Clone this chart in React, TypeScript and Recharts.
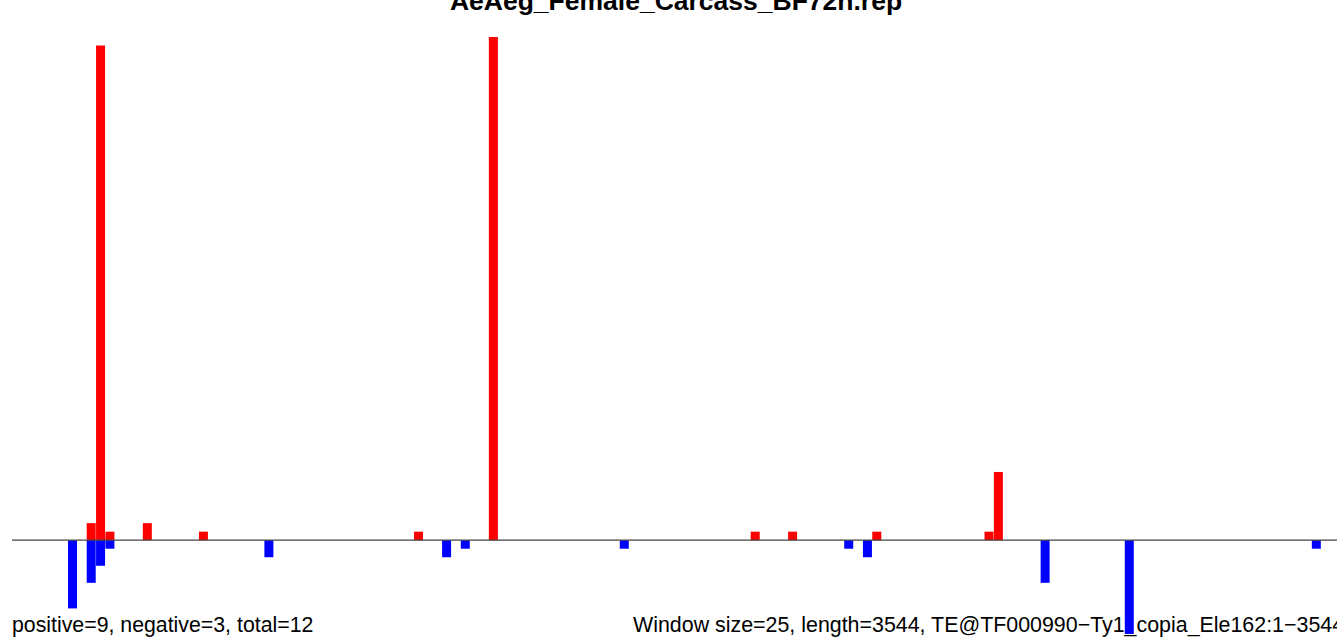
import { BarChart, Bar, XAxis, YAxis, ReferenceLine } from "recharts";

// window size 25 over a 3544 bp element -> 142 windows
const WINDOW_COUNT = 142;

const TITLE = "AeAeg_Female_Carcass_BF72h.rep";
const LEFT_NOTE = "positive=9, negative=3, total=12";
const RIGHT_NOTE = "Window size=25, length=3544, TE@TF000990\u2212Ty1_copia_Ele162:1\u22123544";

const posWindows = [2, 3, 4, 8, 14, 37, 45, 73, 77, 86, 98, 99];
const posCounts = [2, 58, 1, 2, 1, 1, 59, 1, 1, 1, 1, 8];

const negWindows = [0, 2, 3, 4, 21, 40, 42, 59, 83, 85, 104, 113, 133];
const negCounts = [-8, -5, -3, -1, -2, -2, -1, -1, -1, -2, -5, -11, -1];

const data = Array.from({ length: WINDOW_COUNT }, (_, i) => {
  const p = posWindows.indexOf(i);
  const n = negWindows.indexOf(i);
  return {
    win: i,
    pos: p >= 0 ? posCounts[p] : 0,
    neg: n >= 0 ? negCounts[n] : 0,
  };
});

const FONT = "'Liberation Sans', Arial, Helvetica, sans-serif";

export default function App() {
  return (
    <div
      style={{
        position: "absolute",
        left: 0,
        top: 0,
        width: 1337,
        height: 639,
        overflow: "hidden",
        background: "#fff",
      }}
    >
      <BarChart
        width={1396}
        height={639}
        data={data}
        margin={{ top: 37, right: 0, bottom: 5, left: 12 }}
        barCategoryGap={0}
        barGap={0}
        stackOffset="sign"
      >
        <XAxis dataKey="win" type="category" hide padding={{ left: 56, right: 0 }} />
        <YAxis type="number" hide domain={[-11, 59]} allowDataOverflow />
        <ReferenceLine y={0} stroke="#444" strokeWidth={1.2} />
        <Bar dataKey="pos" stackId="s" fill="#ff0000" isAnimationActive={false} />
        <Bar dataKey="neg" stackId="s" fill="#0000ff" isAnimationActive={false} />
      </BarChart>
      <svg
        width={1337}
        height={639}
        style={{ position: "absolute", left: 0, top: 0, pointerEvents: "none" }}
      >
        <text x={676} y={10} textAnchor="middle" fontFamily={FONT} fontWeight="bold" fontSize={26.5} fill="#000">
          {TITLE}
        </text>
        <text x={12} y={632} fontFamily={FONT} fontSize={21.3} fill="#000">
          {LEFT_NOTE}
        </text>
        <text x={633} y={632} fontFamily={FONT} fontSize={21.4} fill="#000">
          {RIGHT_NOTE}
        </text>
      </svg>
    </div>
  );
}
